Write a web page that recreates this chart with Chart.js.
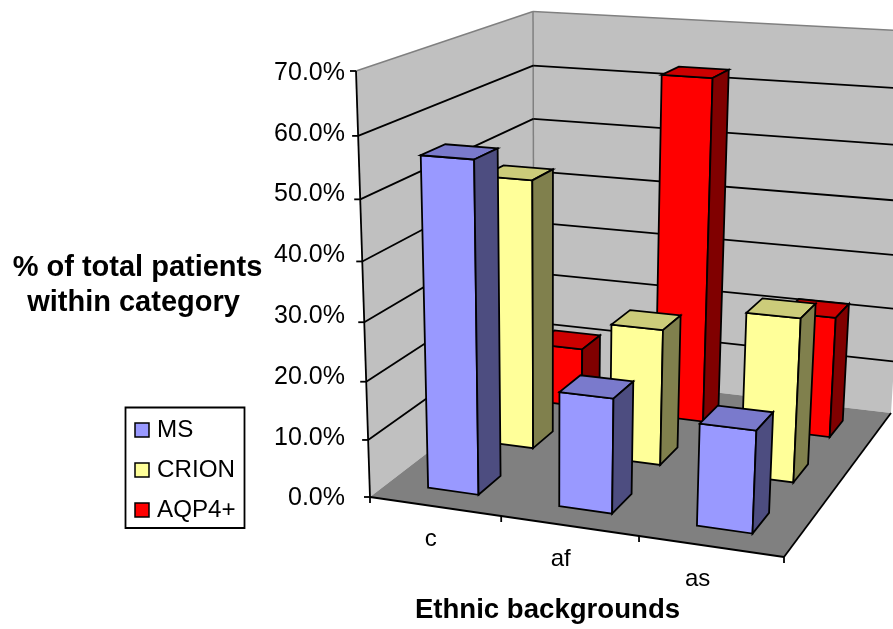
<!DOCTYPE html>
<html>
<head>
<meta charset="utf-8">
<title>Ethnic backgrounds</title>
<script src="https://cdn.jsdelivr.net/npm/chart.js@4"></script>
<style>
  body { margin: 0; background: #fff; }
  canvas { display: block; }
</style>
</head>
<body>
<canvas id="chart" width="893" height="629"></canvas>
<script>
const categories = ['c', 'af', 'as']
const seriesNames = ['MS', 'CRION', 'AQP4+']
const ms = [56.1, 19.6, 17.2]
const crion = [47.9, 24.2, 28.7]
const aqp4 = [11.2, 62.7, 22.2]
const tickStep = 10
const tickMax = 70

// colours: front face, top face, side face
const colours = [
  ['#9999ff', '#7a7acc', '#4d4d80'],
  ['#ffff99', '#cccc7a', '#80804d'],
  ['#ff0000', '#cc0000', '#800000']
]

// corners of the room the bars stand in
const A = [370, 497]  // front left, floor
const B = [784, 557]  // front right, floor
const C = [891, 413]  // back right, floor
const D = [534, 371]  // back left, floor
const E = [356, 71]   // front left, top
const H = [533, 10]   // back left, top
const backShrink = 0.013  // walls lose a little height towards the back
const barFrac = 0.39
// value labels sit in an evenly spaced column, not on the slanted axis
const labelRight = 345
const labelTop = 73
const labelBottom = 498.5
const FONT = '"Liberation Sans", Arial, sans-serif'

function quadWeights(p0, p1, p2, p3){
    const dx1 = p1[0] - p2[0], dx2 = p3[0] - p2[0], sx = p0[0] - p1[0] + p2[0] - p3[0]
    const dy1 = p1[1] - p2[1], dy2 = p3[1] - p2[1], sy = p0[1] - p1[1] + p2[1] - p3[1]
    const det = dx1 * dy2 - dx2 * dy1
    return [(sx * dy2 - dx2 * sy) / det, (dx1 * sy - sx * dy1) / det]
}

const [wx, wz] = quadWeights(A, B, C, D)
const [wy] = quadWeights(A, E, H, D)

// u across, v up, d into the room, all 0..1
function project(u, v, d){
    const h = v * (1 - backShrink * d)
    const w = 1 + wx * u + wy * h + wz * d
    const f = i => (A[i] + (B[i] * (1 + wx) - A[i]) * u + (E[i] * (1 + wy) - A[i]) * h + (D[i] * (1 + wz) - A[i]) * d) / w
    return [f(0), f(1)]
}

function poly(ctx, pts, fill, stroke, lw){
    ctx.beginPath()
    pts.forEach((p, i) => i ? ctx.lineTo(p[0], p[1]) : ctx.moveTo(p[0], p[1]))
    ctx.closePath()
    if(fill){ ctx.fillStyle = fill; ctx.fill() }
    if(stroke){ ctx.strokeStyle = stroke; ctx.lineWidth = lw; ctx.stroke() }
}

function line(ctx, a, b, colour, lw){
    ctx.beginPath()
    ctx.moveTo(a[0], a[1])
    ctx.lineTo(b[0], b[1])
    ctx.strokeStyle = colour
    ctx.lineWidth = lw
    ctx.stroke()
}

function text(ctx, str, x, y, font, align){
    ctx.font = font
    ctx.fillStyle = '#000'
    ctx.textAlign = align || 'center'
    ctx.textBaseline = 'middle'
    ctx.fillText(str, x, y)
}

function drawRoom(chart){
    const ctx = chart.ctx
    const yScale = chart.scales.y
    const area = chart.chartArea
    const toV = val => (area.bottom - yScale.getPixelForValue(val)) / area.height

    // walls and floor
    poly(ctx, [project(0,0,0), project(0,1,0), project(0,1,1), project(0,0,1)], '#c0c0c0')
    poly(ctx, [project(0,0,1), project(0,1,1), project(1,1,1), project(1,0,1)], '#c0c0c0')
    poly(ctx, [project(0,0,0), project(1,0,0), project(1,0,1), project(0,0,1)], '#808080')

    line(ctx, project(0,1,0), project(0,1,1), '#808080', 1.5)
    line(ctx, project(0,1,1), project(1,1,1), '#808080', 1.5)
    line(ctx, project(0,0,1), project(0,1,1), '#808080', 1.5)

    // gridlines and value labels
    yScale.ticks.forEach(tick => {
        const v = toV(tick.value)
        const front = project(0, v, 0)
        if(tick.value > 0 && tick.value < tickMax){
            line(ctx, front, project(0, v, 1), '#000', 1.8)
            line(ctx, project(0, v, 1), project(1, v, 1), '#000', 1.8)
        }
        line(ctx, front, [front[0] - 6, front[1]], '#000', 1.8)
        const labelY = labelBottom + (labelTop - labelBottom) * v
        text(ctx, tick.label, labelRight, labelY, '25px ' + FONT, 'right')
    })

    // axis lines
    line(ctx, project(0,0,0), project(0,1,0), '#000', 1.8)
    line(ctx, project(0,0,0), project(1,0,0), '#000', 1.8)
    line(ctx, project(1,0,0), project(1,0,1), '#000', 1.8)
    line(ctx, project(0,0,0), [A[0], A[1] + 6], '#000', 1.8)
    categories.forEach((c, i) => {
        const p = project((i + 1) / categories.length, 0, 0)
        line(ctx, p, [p[0], p[1] + 6], '#000', 1.8)
    })
}

function drawBars(chart){
    const ctx = chart.ctx
    const { x: xScale, y: yScale, z: zScale } = chart.scales
    const area = chart.chartArea
    const half = barFrac / 2
    const uBand = 1 / categories.length
    const dBand = 1 / seriesNames.length

    // back row first so the front row covers it
    for(let s = seriesNames.length - 1; s >= 0; s--){
        const values = chart.data.datasets[s].data
        const d0 = (zScale.getPixelForValue(s) - area.left) / area.width
        values.forEach((val, i) => {
            const u0 = (xScale.getPixelForValue(i) - area.left) / area.width
            const v = (area.bottom - yScale.getPixelForValue(val)) / area.height
            const l = u0 - half * uBand, r = u0 + half * uBand
            const f = d0 - half * dBand, b = d0 + half * dBand
            const [face, top, side] = colours[s]
            poly(ctx, [project(l,0,f), project(r,0,f), project(r,v,f), project(l,v,f)], face, '#000', 1.8)
            poly(ctx, [project(l,v,f), project(r,v,f), project(r,v,b), project(l,v,b)], top, '#000', 1.8)
            poly(ctx, [project(r,0,f), project(r,0,b), project(r,v,b), project(r,v,f)], side, '#000', 1.8)
        })
    }
}

function drawLabels(chart){
    const ctx = chart.ctx
    const xScale = chart.scales.x
    const area = chart.chartArea
    categories.forEach((c, i) => {
        const u = (xScale.getPixelForValue(i) - area.left) / area.width
        const p = project(u, 0, 0)
        text(ctx, c, p[0] - 4 - 4.5 * i, p[1] + 33, '24px ' + FONT)
    })
    text(ctx, 'Ethnic backgrounds', 547.5, 610, 'bold 27.6px ' + FONT)
    text(ctx, '% of total patients', 137.5, 268, 'bold 29px ' + FONT)
    text(ctx, 'within category', 133.5, 303, 'bold 29px ' + FONT)

    // legend box
    poly(ctx, [[125.5, 407.5], [244.5, 407.5], [244.5, 528], [125.5, 528]], '#fff', '#000', 1.8)
    seriesNames.forEach((name, s) => {
        const y = 430 + s * 40
        poly(ctx, [[135, y - 7], [149, y - 7], [149, y + 7], [135, y + 7]], colours[s][0], '#000', 1.5)
        text(ctx, name, 157, y + 0.5, '24.2px ' + FONT, 'left')
    })
}

const room3d = {
    id: 'room3d',
    beforeDatasetsDraw(chart){
        drawRoom(chart)
        drawBars(chart)
        drawLabels(chart)
        return false
    }
}

new Chart(document.getElementById('chart'), {
    type: 'bar',
    data: {
        labels: categories,
        datasets: [
            { label: seriesNames[0], data: ms, backgroundColor: colours[0][0] },
            { label: seriesNames[1], data: crion, backgroundColor: colours[1][0] },
            { label: seriesNames[2], data: aqp4, backgroundColor: colours[2][0] }
        ]
    },
    options: {
        responsive: false,
        animation: false,
        layout: { padding: 0 },
        plugins: { legend: { display: false }, tooltip: { enabled: false } },
        scales: {
            x: { display: false, offset: true },
            y: {
                display: false, min: 0, max: tickMax,
                ticks: { stepSize: tickStep, callback: v => v.toFixed(1) + '%' }
            },
            z: { type: 'category', axis: 'x', labels: seriesNames, display: false, offset: true }
        }
    },
    plugins: [room3d]
})
</script>
</body>
</html>
